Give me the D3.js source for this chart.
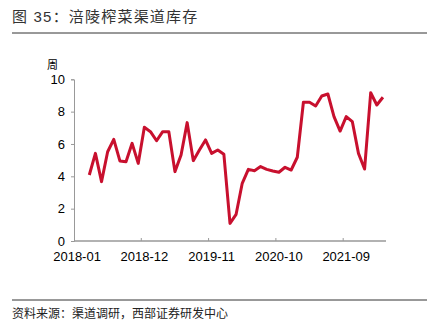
<!DOCTYPE html>
<html><head><meta charset="utf-8">
<script src="https://cdn.jsdelivr.net/npm/d3@7"></script>
<style>body{margin:0;background:#fff}svg{display:block}</style>
</head><body>
<script>
const months = [];
for (let y = 2018; y <= 2022; y++) for (let m = 1; m <= 12; m++) {
  if (y === 2022 && m > 3) break;
  months.push(y + "-" + String(m).padStart(2, "0"));
}
const tickLabels = ["2018-01", "2018-12", "2019-11", "2020-10", "2021-09"];
const yTicks = [0, 2, 4, 6, 8, 10];
// inventory weeks, 2018-03 .. 2022-03
const inventory = [4.08, 5.42, 3.67, 5.52, 6.29, 4.95, 4.9, 6.04, 4.8, 7.03, 6.76, 6.2, 6.76, 6.76, 4.29, 5.32, 7.32, 4.97, 5.63, 6.25, 5.42, 5.63, 5.36, 1.09, 1.65, 3.57, 4.43, 4.35, 4.6, 4.43, 4.33, 4.25, 4.56, 4.39, 5.18, 8.58, 8.58, 8.35, 8.97, 9.09, 7.69, 6.8, 7.69, 7.38, 5.42, 4.45, 9.17, 8.41, 8.89];
const startMonth = "2018-03";
const series = inventory.map((v, i) => ({ m: months[months.indexOf(startMonth) + i], v }));

const W = 430, H = 336;
const svg = d3.select("body").append("svg").attr("width", W).attr("height", H);
const font = "'Liberation Sans', Arial, 'Noto Sans CJK SC', sans-serif";

// title
svg.append("text").attr("x", 12).attr("y", 22).attr("font-family", font)
  .attr("font-size", 15).attr("letter-spacing", 1.2).attr("fill", "#333").text("图 35：涪陵榨菜渠道库存");
svg.append("line").attr("x1", 12).attr("x2", 427).attr("y1", 33).attr("y2", 33)
  .attr("stroke", "#333").attr("stroke-width", 1);

const x = d3.scaleBand().domain(months).range([74, 386]).paddingInner(0).paddingOuter(0);
const y = d3.scaleLinear().domain([0, 10]).range([241, 79.3]);

// y axis
const ya = svg.append("g").attr("transform", "translate(74,0)")
  .call(d3.axisLeft(y).tickValues(yTicks).tickSize(3).tickPadding(6));
ya.select(".domain").attr("stroke", "#999");
ya.selectAll(".tick line").attr("stroke", "#999");
ya.selectAll("text").attr("font-family", font).attr("font-size", 13).attr("fill", "#000");

// x axis
const xa = svg.append("g").attr("transform", "translate(0,241)");
xa.append("line").attr("x1", 74).attr("x2", 386).attr("stroke", "#999").attr("stroke-width", 1.5);
xa.selectAll("line.t").data(tickLabels.slice(1)).join("line").attr("class", "t")
  .attr("x1", d => x(d)).attr("x2", d => x(d)).attr("y1", 0).attr("y2", -3).attr("stroke", "#999");
xa.selectAll("text").data(tickLabels).join("text")
  .attr("x", d => x(d) + x.bandwidth() / 2).attr("y", 20).attr("text-anchor", "middle")
  .attr("font-family", font).attr("font-size", 13).attr("fill", "#000").text(d => d);

// unit label
svg.append("text").attr("x", 47).attr("y", 69).attr("font-family", font)
  .attr("font-size", 11).attr("fill", "#000").text("周");

// line
svg.append("path").datum(series)
  .attr("d", d3.line().x(d => x(d.m) + x.bandwidth() / 2).y(d => y(d.v)))
  .attr("fill", "none").attr("stroke", "#c8102e").attr("stroke-width", 3).attr("stroke-linejoin", "round");

// footer
svg.append("line").attr("x1", 12).attr("x2", 427).attr("y1", 300).attr("y2", 300)
  .attr("stroke", "#333").attr("stroke-width", 1);
svg.append("text").attr("x", 12).attr("y", 318).attr("font-family", "'Noto Sans CJK SC', sans-serif")
  .attr("font-size", 12).attr("fill", "#222").text("资料来源：渠道调研，西部证券研发中心");
</script>
</body></html>
